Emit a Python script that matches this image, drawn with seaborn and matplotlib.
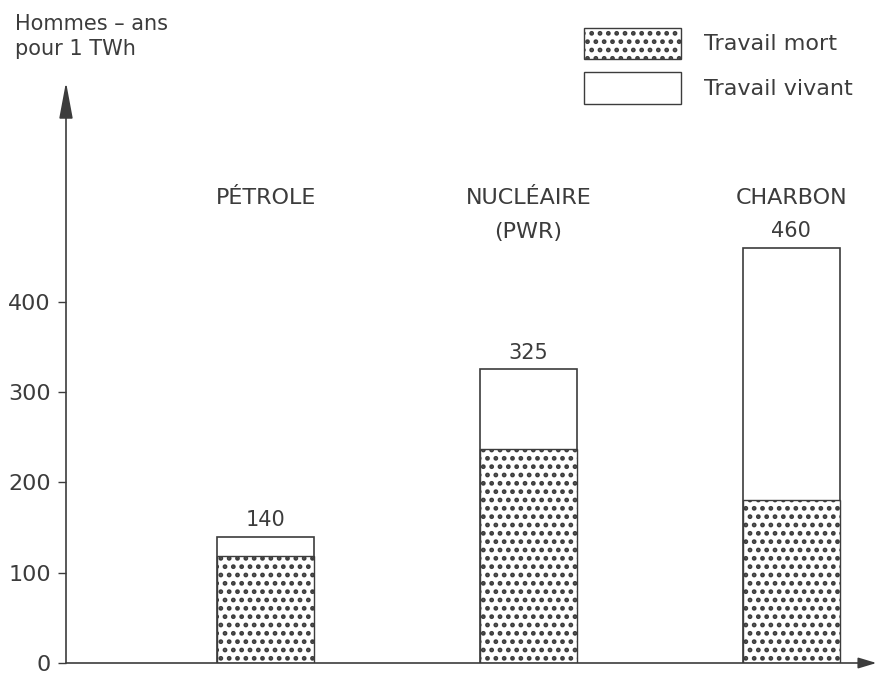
import matplotlib
matplotlib.use("Agg")
import matplotlib.pyplot as plt
import matplotlib.transforms as mtransforms
from matplotlib.patches import Patch
import seaborn as sns

sns.set_theme(style="white")
plt.rcParams["font.family"] = ["DejaVu Sans"]
plt.rcParams["hatch.linewidth"] = 2.2

# données (hommes-ans pour 1 TWh)
categories = ["PÉTROLE", "NUCLÉAIRE\n(PWR)", "CHARBON"]
total = [140, 325, 460]          # travail mort + travail vivant
travail_mort = [118, 237, 180]
yticks = [0, 100, 200, 300, 400]

ink = "#3c3c3c"
hatch = ".."

fig = plt.figure(figsize=(8.8, 6.77), dpi=100)
ax = fig.add_axes([66 / 880, 14 / 677, 804 / 880, 578 / 677])

sns.barplot(x=categories, y=total, color="white", edgecolor=ink,
            linewidth=1.2, width=0.37, ax=ax, saturation=1)
sns.barplot(x=categories, y=travail_mort, color="white", edgecolor=ink,
            linewidth=1.0, width=0.37, hatch=hatch, ax=ax, saturation=1)

ax.bar_label(ax.containers[0], labels=[str(v) for v in total],
             padding=5, fontsize=15, color=ink)

ax.set_xlim(-0.76, 2.30)
ax.set_ylim(0, 640)
ax.set_xticks([])
ax.set_yticks(yticks)
ax.set_yticklabels([str(t) for t in yticks], fontsize=16, color=ink)
ax.tick_params(axis="y", direction="out", length=6, width=1, color=ink,
               pad=5, left=True)
ax.set_xlabel("")
ax.set_ylabel("")
for s in ax.spines.values():
    s.set_visible(False)

# axes avec flèches
ax.annotate("", xy=(0, 1.005), xytext=(0, 0), xycoords="axes fraction",
            arrowprops=dict(arrowstyle="-|>,head_length=0.75,head_width=0.14",
                            color=ink, lw=1.2, mutation_scale=30,
                            shrinkA=0, shrinkB=0))
ax.annotate("", xy=(1.008, 0), xytext=(0, 0), xycoords="axes fraction",
            arrowprops=dict(arrowstyle="-|>,head_length=0.5,head_width=0.15",
                            color=ink, lw=1.2, mutation_scale=22,
                            shrinkA=0, shrinkB=0))

# noms des filières au-dessus des barres
trans = mtransforms.blended_transform_factory(ax.transData, ax.transAxes)
for i, name in enumerate(categories):
    ax.text(i, 0.822, name, transform=trans, ha="center", va="top",
            fontsize=16, color=ink, linespacing=1.9)

fig.text(15 / 880, 1 - 14 / 677, "Hommes – ans\npour 1 TWh", ha="left",
         va="top", fontsize=15, color=ink, linespacing=1.3)

handles = [Patch(facecolor="white", edgecolor=ink, hatch=hatch,
                 label="Travail mort"),
           Patch(facecolor="white", edgecolor=ink, label="Travail vivant")]
fig.legend(handles=handles, loc="upper left",
           bbox_to_anchor=(568 / 880, 1 - 12 / 677), frameon=False,
           fontsize=16, handlelength=4.4, handleheight=1.8,
           handletextpad=1.0, labelspacing=0.6, labelcolor=ink,
           borderpad=0.2)

fig.savefig("out.png", dpi=100)
